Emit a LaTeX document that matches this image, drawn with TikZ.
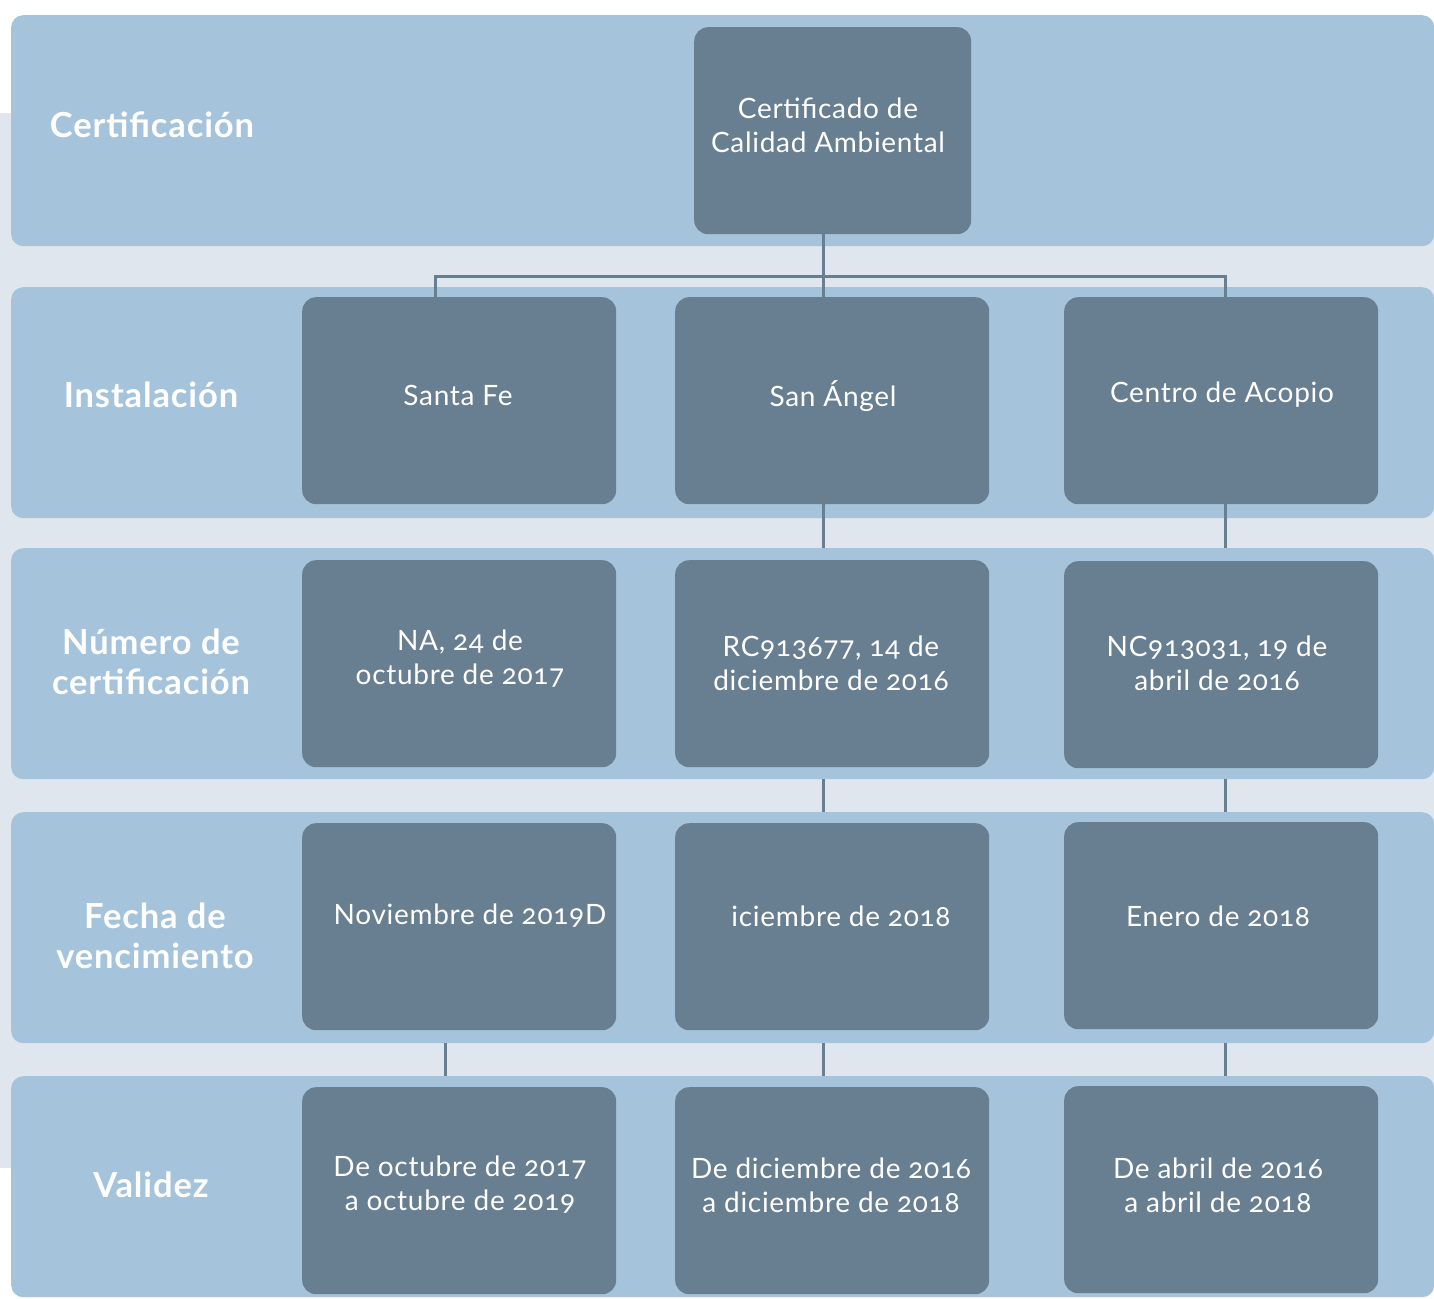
\documentclass[tikz,border=0pt]{standalone}
\usepackage{fontspec}
\setmainfont[Numbers=OldStyle,LetterSpace=2.5]{Lato}
\definecolor{bgray}{HTML}{DFE6ED}
\definecolor{band}{HTML}{A5C4DB}
\definecolor{dark}{HTML}{687E91}
\tikzset{
  bandbox/.style={fill=band, rounded corners=12pt, anchor=north west, minimum width=1423pt, minimum height=231pt, inner sep=0pt},
  dbox/.style={fill=dark, rounded corners=14pt, anchor=north west, minimum width=314pt, minimum height=207pt, inner sep=0pt},
  txt/.style={text=white, align=center, font=\fontsize{28}{34}\selectfont, inner sep=0pt},
  head/.style={text=white, align=center, font=\fontsize{34.5}{40}\selectfont\bfseries, inner sep=0pt},
  conn/.style={draw=dark, line width=3pt}
}
\begin{document}
\begin{tikzpicture}[x=1pt,y=-1pt]
\useasboundingbox (0,0) rectangle (1434,1298);
\fill[bgray] (0,113) rectangle (1434,1168);
% bands
\node[bandbox] (b1) at (11,15) {};
\node[bandbox] (b2) at (11,287) {};
\node[bandbox] (b3) at (11,548) {};
\node[bandbox] (b4) at (11,812) {};
\node[bandbox, minimum height=221pt] (b5) at (11,1076) {};
% coordinates for connector x positions
\coordinate (lx) at (435,0);
\coordinate (lxb) at (445,0);
\coordinate (mx) at (823,0);
\coordinate (rx) at (1225,0);
\coordinate (hub) at (823,276);
% boxes
\node[dbox, minimum width=277pt] (top) at (694,27) {};
\node[dbox] (sf) at (302,297) {};
\node[dbox] (sa) at (675,297) {};
\node[dbox] (ca) at (1064,297) {};
\node[dbox] (n1) at (302,560) {};
\node[dbox] (n2) at (675,560) {};
\node[dbox] (n3) at (1064,561) {};
\node[dbox] (f1) at (302,823) {};
\node[dbox] (f2) at (675,823) {};
\node[dbox] (f3) at (1064,822) {};
\node[dbox] (v1) at (302,1087) {};
\node[dbox] (v2) at (675,1087) {};
\node[dbox] (v3) at (1064,1086) {};
% connectors
\draw[conn] (top.south -| mx) -- (sa.north -| mx);
\draw[conn] (lx |- sf.north) |- (hub) -| (rx |- ca.north);
\draw[conn] (sa.south -| mx) -- (b3.north -| mx);
\draw[conn] (ca.south -| rx) -- (b3.north -| rx);
\draw[conn] (b3.south -| mx) -- (b4.north -| mx);
\draw[conn] (b3.south -| rx) -- (b4.north -| rx);
\draw[conn] (b4.south -| lxb) -- (b5.north -| lxb);
\draw[conn] (b4.south -| mx) -- (b5.north -| mx);
\draw[conn] (b4.south -| rx) -- (b5.north -| rx);
% headers
\node[head] (h1) at (152,125) {Certificación};
\node[head] (h2) at (151,395) {Instalación};
\node[head] (h3) at (151,662) {Número de\\certificación};
\node[head] (h4) at (155,936) {Fecha de\\vencimiento};
\node[head] (h5) at (151,1185) {Validez};
% texts
\node[txt] (ttop) at (828,125) {Certificado de\\Calidad Ambiental};
\node[txt] (tsf) at (458,395) {Santa Fe};
\node[txt] (tsa) at (833,396) {San Ángel};
\node[txt] (tca) at (1222,395) {Centro de Acopio};
\node[txt] (tn1) at (460,659) {NA, 24 de\\octubre de 2017};
\node[txt] (tn2) at (831,663) {RC913677, 14 de\\diciembre de 2016};
\node[txt] (tn3) at (1217,663) {NC913031, 19 de\\abril de 2016};
\node[txt] (tf1) at (470,916) {Noviembre de 2019D};
\node[txt] (tf2) at (841,916) {iciembre de 2018};
\node[txt] (tf3) at (1218,916) {Enero de 2018};
\node[txt] (tv1) at (460,1185) {De octubre de 2017\\a octubre de 2019};
\node[txt] (tv2) at (831,1185) {De diciembre de 2016\\a diciembre de 2018};
\node[txt] (tv3) at (1218,1185) {De abril de 2016\\a abril de 2018};
\end{tikzpicture}
\end{document}
